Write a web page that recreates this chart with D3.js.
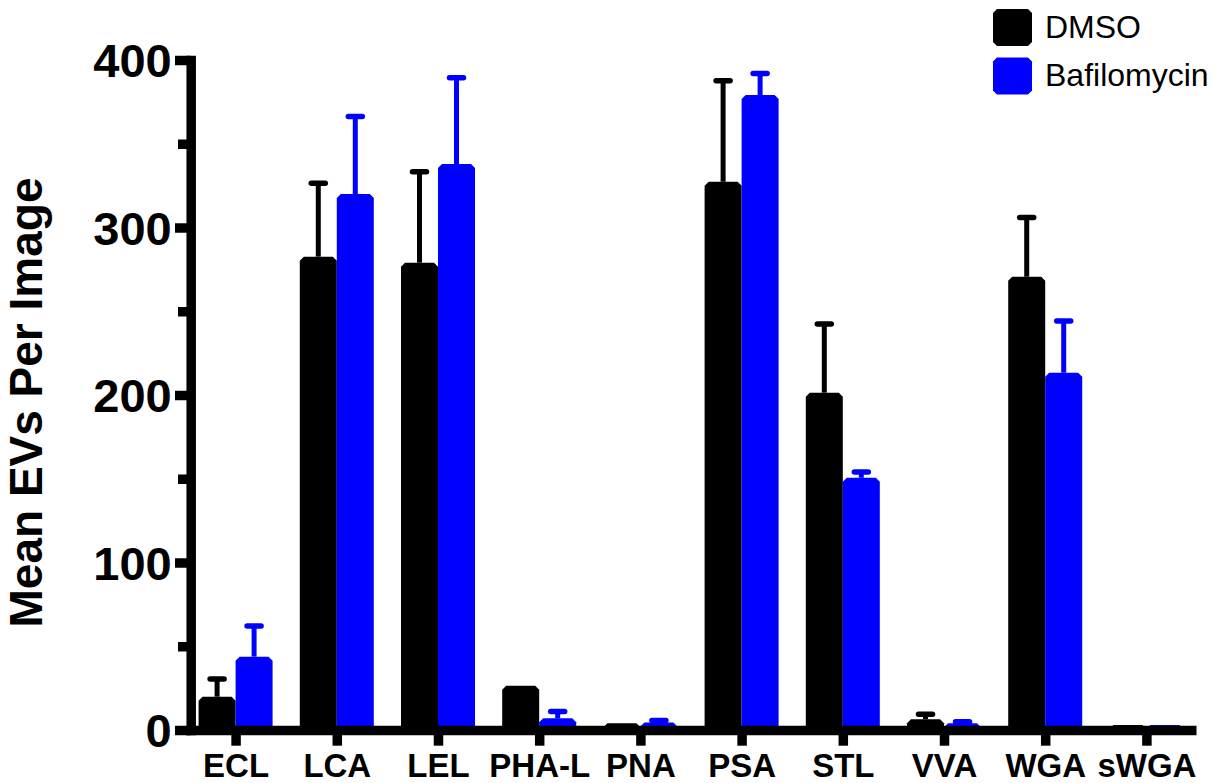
<!DOCTYPE html>
<html>
<head>
<meta charset="utf-8">
<script src="https://cdn.jsdelivr.net/npm/d3@7"></script>
<style>
  html, body { margin: 0; padding: 0; background: #fff; }
  svg { display: block; font-family: Arial, "Liberation Sans", Helvetica, sans-serif; }
</style>
</head>
<body>
<svg id="chart" width="1223" height="783"></svg>
<script>
// Lectin binding: mean EV counts per image (+SEM), DMSO vs Bafilomycin
const categories = ["ECL", "LCA", "LEL", "PHA-L", "PNA", "PSA", "STL", "VVA", "WGA", "sWGA"];
const seriesNames = ["DMSO", "Bafilomycin"];
const dmsoMean = [19.9, 282.6, 279.0, 26.4, 4.0, 327.3, 201.4, 6.4, 270.6, 3.0];
const dmsoErr  = [10.5, 43.8, 54.3, 0, 0, 60.3, 41.0, 3.0, 35.3, 0];
const bafMean  = [43.8, 320.0, 337.9, 7.0, 4.5, 379.1, 150.6, 4.0, 213.3, 3.0];
const bafErr   = [18.3, 46.2, 51.5, 4.0, 1.2, 12.9, 3.4, 1.0, 30.9, 0];
const majorTicks = [0, 100, 200, 300, 400];
const minorTicks = [50, 150, 250, 350];
const colors = ["#000000", "#0000ff"];

const svg = d3.select("#chart");
const axisW = 9.5;

const y = d3.scaleLinear().domain([0, 400]).range([730, 60]);
const x = d3.scalePoint().domain(categories).range([186, 1196]).padding(0.49);
const xSub = d3.scaleBand().domain(seriesNames).range([-37, 37]).padding(0);

const rows = categories.map((c, i) => ({
  cat: c,
  vals: [
    { s: seriesNames[0], mean: dmsoMean[i], err: dmsoErr[i], color: colors[0] },
    { s: seriesNames[1], mean: bafMean[i], err: bafErr[i], color: colors[1] }
  ]
}));

// bar with chamfered top corners
function barPath(x0, x1, yTop, yBase, c) {
  const h = yBase - yTop;
  const cc = Math.min(c, h, (x1 - x0) / 2);
  return `M${x0},${yBase}L${x0},${yTop + cc}L${x0 + cc},${yTop}L${x1 - cc},${yTop}L${x1},${yTop + cc}L${x1},${yBase}Z`;
}

const groups = svg.append("g").selectAll("g.cat")
  .data(rows).join("g").attr("class", "cat")
  .attr("transform", d => `translate(${x(d.cat)},0)`);

const items = groups.selectAll("g.item").data(d => d.vals).join("g").attr("class", "item");

// error bars (upper only)
items.filter(d => d.err > 0).append("line")
  .attr("x1", d => xSub(d.s) + xSub.bandwidth() / 2)
  .attr("x2", d => xSub(d.s) + xSub.bandwidth() / 2)
  .attr("y1", d => y(d.mean))
  .attr("y2", d => y(d.mean + d.err))
  .attr("stroke", d => d.color).attr("stroke-width", 5);
items.filter(d => d.err > 0).append("line")
  .attr("x1", d => xSub(d.s) + xSub.bandwidth() / 2 - 7)
  .attr("x2", d => xSub(d.s) + xSub.bandwidth() / 2 + 7)
  .attr("y1", d => y(d.mean + d.err))
  .attr("y2", d => y(d.mean + d.err))
  .attr("stroke", d => d.color).attr("stroke-width", 5.5).attr("stroke-linecap", "round");

// bars
items.append("path")
  .attr("d", d => barPath(xSub(d.s), xSub(d.s) + xSub.bandwidth(), y(d.mean), y(0), 4))
  .attr("fill", d => d.color);

// y axis
const yAxisG = svg.append("g").attr("transform", "translate(190.7,0)");
yAxisG.call(d3.axisLeft(y).tickValues(minorTicks).tickSize(12.7).tickSizeOuter(0).tickFormat(""));
yAxisG.call(g => g.select(".domain").remove());
yAxisG.append("g").call(d3.axisLeft(y).tickValues(majorTicks).tickSize(15.7).tickSizeOuter(0).tickPadding(4))
  .call(g => g.select(".domain").attr("stroke-linecap", "square"));
yAxisG.selectAll("line").attr("stroke", "#000").attr("stroke-width", axisW);
yAxisG.selectAll(".domain").attr("stroke", "#000").attr("stroke-width", axisW);
yAxisG.selectAll("text")
  .attr("font-size", 47).attr("font-weight", "bold").attr("fill", "#000")
  .attr("font-family", "Arial, 'Liberation Sans', sans-serif")
  .attr("dy", null).attr("y", 16.6).attr("x", -19);

// x axis
const xAxisG = svg.append("g").attr("transform", "translate(0,730)");
xAxisG.call(d3.axisBottom(x).tickSize(15.7).tickSizeOuter(0).tickPadding(8));
xAxisG.selectAll("line").attr("stroke", "#000").attr("stroke-width", axisW);
xAxisG.select(".domain").attr("stroke", "#000").attr("stroke-width", axisW);
xAxisG.selectAll("text")
  .attr("font-size", 33).attr("font-weight", "bold").attr("fill", "#000")
  .attr("font-family", "Arial, 'Liberation Sans', sans-serif")
  .attr("dy", null).attr("y", 47);

// y axis title
svg.append("text")
  .attr("transform", "translate(42,402.5) rotate(-90)")
  .attr("text-anchor", "middle")
  .attr("font-size", 46).attr("font-weight", "bold")
  .text("Mean EVs Per Image");

// legend
const legend = svg.append("g").selectAll("g").data(seriesNames).join("g")
  .attr("transform", (d, i) => `translate(993,${9 + i * 48.5})`);
legend.append("path")
  .attr("d", () => `M0,4L4,0L35,0L39,4L39,33L35,37L4,37L0,33Z`)
  .attr("fill", (d, i) => colors[i]);
legend.append("text")
  .attr("x", 52).attr("y", 28.5)
  .attr("font-size", 32).attr("fill", "#000")
  .text(d => d);
</script>
</body>
</html>
